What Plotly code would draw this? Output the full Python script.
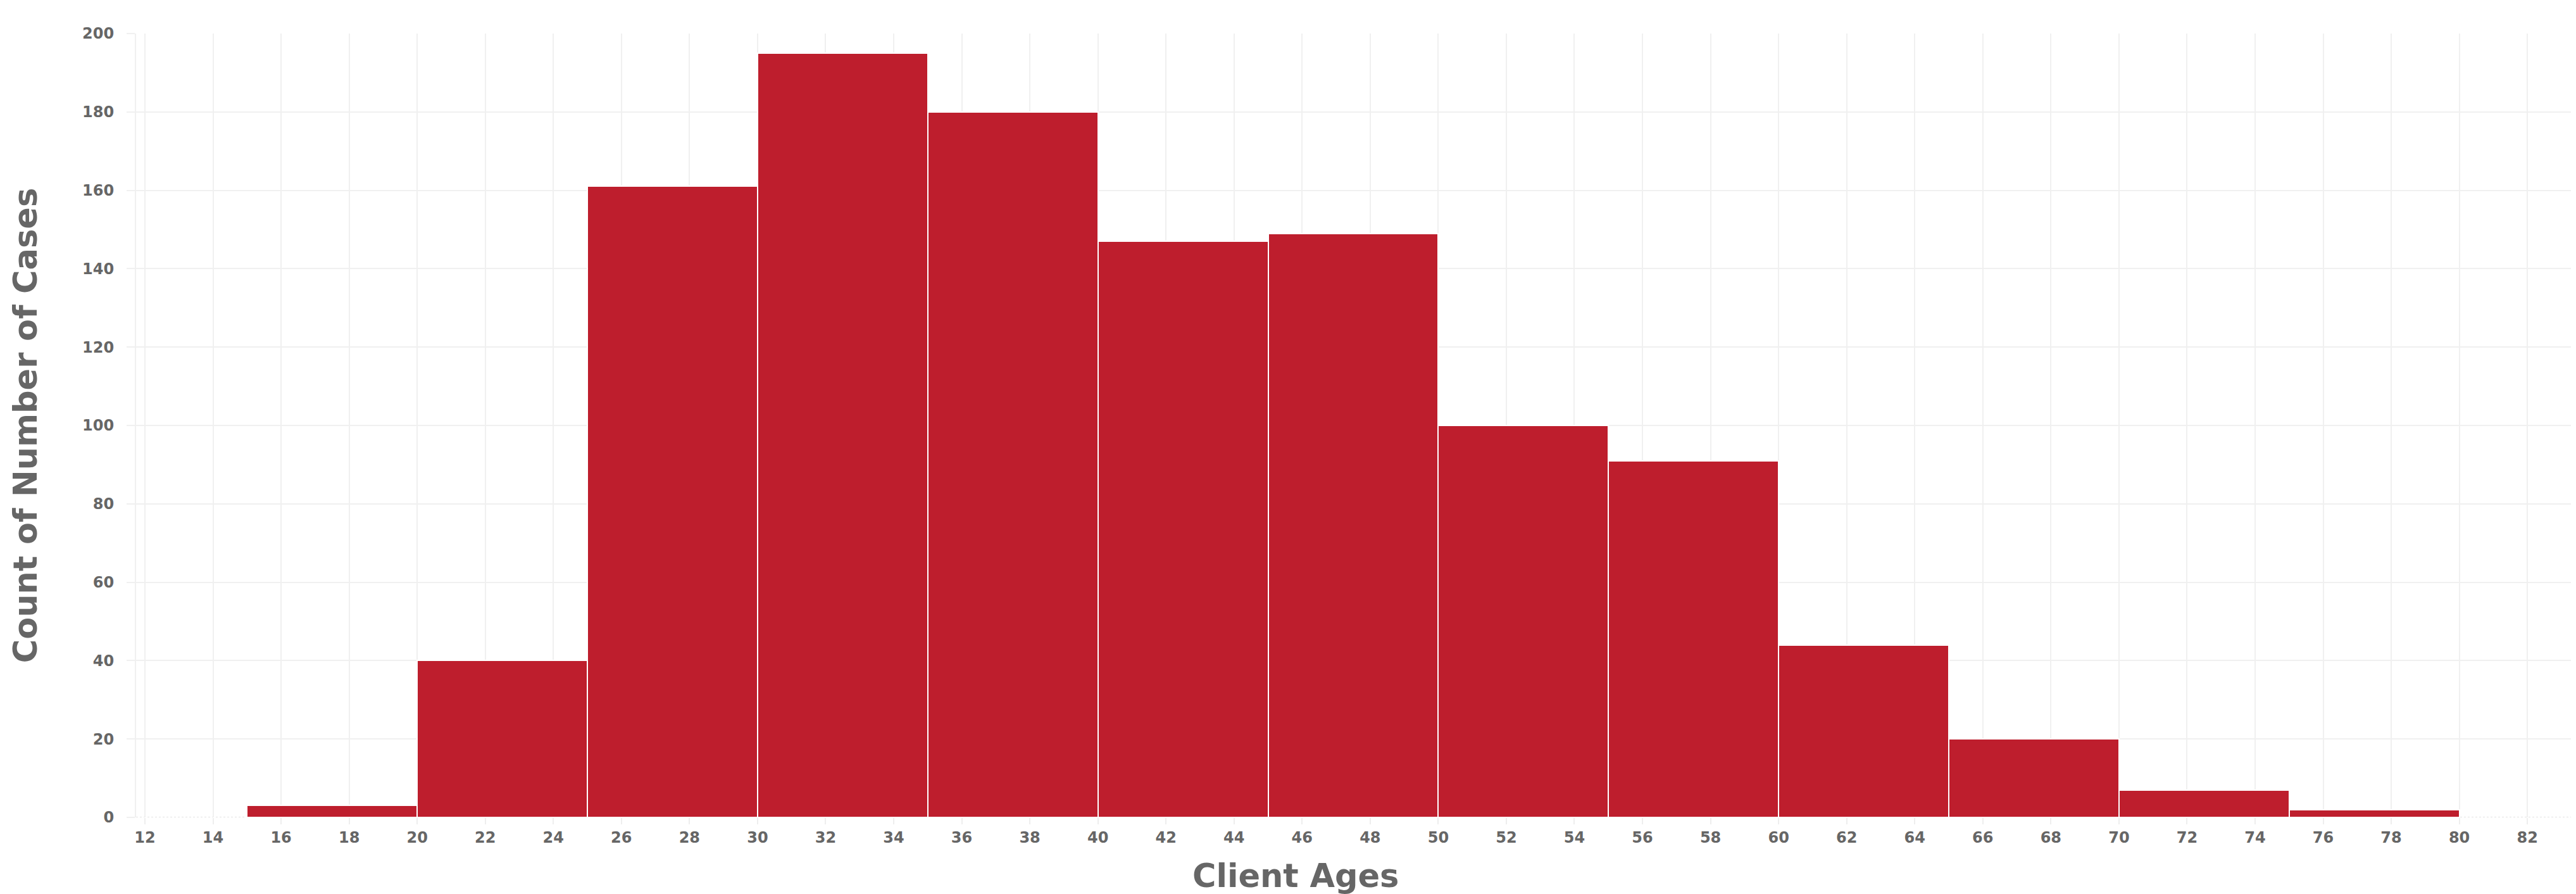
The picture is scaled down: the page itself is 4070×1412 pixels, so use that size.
import plotly.graph_objects as go

bin_starts = [15, 20, 25, 30, 35, 40, 45, 50, 55, 60, 65, 70, 75]
counts = [3, 40, 161, 195, 180, 147, 149, 100, 91, 44, 20, 7, 2]
bin_width = 5
x_ticks = list(range(12, 84, 2))
y_ticks = list(range(0, 201, 20))

FONT = "DejaVu Sans"
GREY = "#666666"
GRID = "#f0f0f0"

fig = go.Figure(go.Bar(
    x=bin_starts, y=counts, width=bin_width, offset=0,
    marker=dict(color="#BE1E2D", line=dict(color="white", width=2)),
))

fig.update_layout(
    width=4070, height=1412,
    margin=dict(l=207, r=16, t=45, b=129),
    plot_bgcolor="white", paper_bgcolor="white",
    showlegend=False, bargap=0,
    font=dict(family=FONT, color=GREY),
)
fig.update_xaxes(
    range=[11.74, 83.28], tickvals=x_ticks,
    tickfont=dict(family=FONT, size=24, color=GREY, weight="bold"),
    showgrid=True, gridcolor=GRID, gridwidth=2,
    ticks="outside", ticklen=10, tickcolor="#eeeeee", tickwidth=2,
    zeroline=False, showline=False,
)
fig.update_yaxes(
    range=[0, 200], tickvals=y_ticks,
    tickfont=dict(family=FONT, size=24, color=GREY, weight="bold"),
    showgrid=True, gridcolor=GRID, gridwidth=2,
    ticks="outside", ticklen=13, tickcolor=GRID, tickwidth=2,
    ticklabelstandoff=15,
    zeroline=False, showline=True, linecolor=GRID, linewidth=2,
    title=dict(text="Count of Number of Cases", font=dict(family=FONT, size=51, color=GREY, weight="bold"), standoff=55),
)
fig.add_shape(type="line", xref="paper", yref="y", x0=0, x1=1, y0=0, y1=0,
              line=dict(color="#e3e3e3", width=2, dash="dot"), layer="below")
fig.add_annotation(
    text="Client Ages", xref="paper", yref="paper",
    x=(2039 - 207) / (4054 - 207), y=-92 / 1238,
    xanchor="center", yanchor="middle", showarrow=False,
    font=dict(family=FONT, size=51, color=GREY, weight="bold"),
)

fig.write_html("out.html")
